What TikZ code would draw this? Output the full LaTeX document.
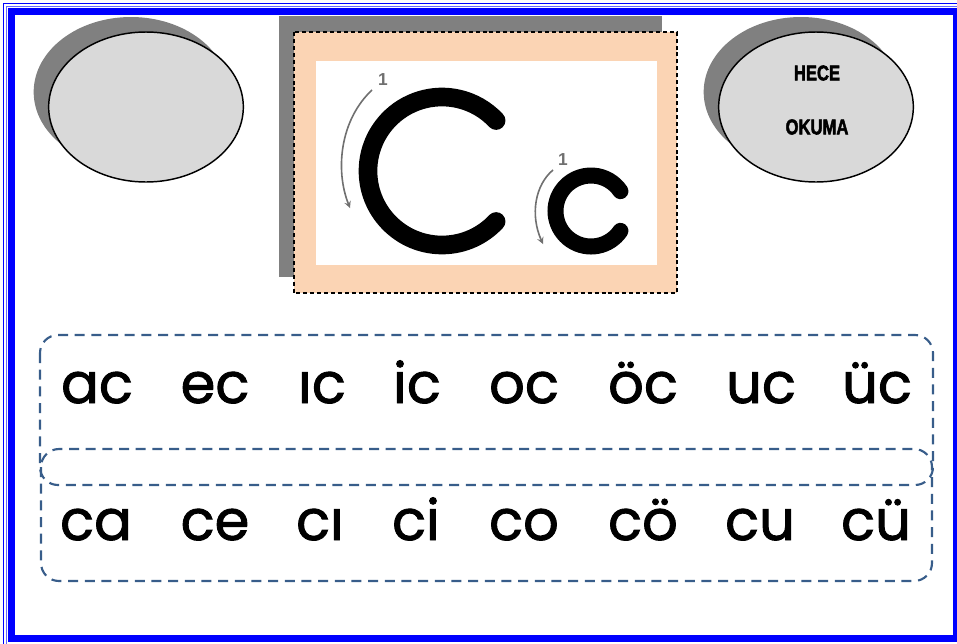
\documentclass[tikz,border=0pt]{standalone}
\usepackage{fontspec}
\newfontfamily\sylfont{Poppins}[FakeBold=1.6]
\newfontfamily\labfont{Liberation Sans}
\newfontfamily\headfont{Liberation Sans}[FakeBold=2.5]
\usetikzlibrary{shapes.geometric}
\definecolor{frameblue}{RGB}{0,0,255}
\definecolor{peach}{RGB}{251,212,180}
\definecolor{boxblue}{RGB}{56,93,138}
\definecolor{shadegray}{RGB}{128,128,128}
\definecolor{ovalgray}{RGB}{217,217,217}
\definecolor{arrowgray}{RGB}{112,112,112}
\tikzset{
	oval/.style={ellipse, draw=black, line width=1.1pt, fill=ovalgray, minimum width=146pt, minimum height=112.5pt, inner sep=0pt},
	shadowoval/.style={ellipse, fill=shadegray, minimum width=146pt, minimum height=112.5pt, inner sep=0pt},
	sylbox/.style={draw=boxblue, line width=1.6pt, dash pattern=on 7.5pt off 5pt, rounded corners=13.5pt},
	syl/.style={anchor=base, font=\sylfont\fontsize{42}{48}\selectfont},
	okuma/.style={font=\headfont\bfseries\fontsize{16}{18}\selectfont, xscale=0.78},
	stroke/.style={arrowgray, line width=1.2pt, -stealth},
	strokenum/.style={text=arrowgray, font=\labfont\bfseries\fontsize{13}{14}\selectfont, inner sep=0pt}
}
\begin{document}
\begin{tikzpicture}[x=0.75pt,y=-0.75pt]
	\useasboundingbox (0,0) rectangle (957,643);
	% frame
	\draw[frameblue, line width=0.75pt] (3.5,3.5) rectangle (975,660);
	\draw[frameblue!60, line width=0.75pt] (6.5,6.5) rectangle (972,657);
	\draw[frameblue, line width=5.25pt] (11.5,11.5) rectangle (956.5,638.5);

	% ovals
	\node[shadowoval] (lshadow) at (131,92) {};
	\node[oval] (loval) at (146,107) {};
	\node[shadowoval] (rshadow) at (801,92) {};
	\node[oval] (roval) at (816,107) {};
	\node[okuma] (hece) at (817,73) {HECE};
	\node[okuma] (okuma) at (817,127) {OKUMA};

	% letter card
	\fill[shadegray] (279,16) rectangle (662,277);
	\draw[fill=peach, line width=0.8pt, dash pattern=on 3pt off 2.2pt] (294,32) rectangle (677,293);
	\fill[white] (316,61) rectangle (657,265);

	\coordinate (bigC) at (442,171);
	\coordinate (smallc) at (591,211);
	\draw[line width=14pt, line cap=round] (bigC) ++(43:74) arc[start angle=43, end angle=317, radius=74];
	\draw[line width=12pt, line cap=round] (smallc) ++(34:35.5) arc[start angle=34, end angle=326, radius=35.5];

	\coordinate (bigfrom) at (372,90);
	\coordinate (bigto) at (350,208);
	\coordinate (smallfrom) at (553,170);
	\coordinate (smallto) at (543,244);
	\draw[stroke] (bigfrom) .. controls (340,120) and (335,170) .. (bigto);
	\draw[stroke] (smallfrom) .. controls (535,185) and (530,215) .. (smallto);
	\node[strokenum] (bignum) at (383,80) {1};
	\node[strokenum] (smallnum) at (563,160) {1};

	% syllables
	\draw[sylbox] (40,335) rectangle (933,485);
	\draw[sylbox] (41,449) rectangle (932,581);

	\foreach \x/\s [count=\i] in {97/ac, 215/ec, 322/ıc, 417/ic, 524/oc, 643/öc, 761/uc, 877/üc}
	{
		\node[syl] (top\i) at (\x,403) {\s};
	}
	\foreach \x/\s [count=\i] in {96/ca, 215/ce, 320/cı, 416/ci, 524/co, 643/cö, 760/cu, 876/cü}
	{
		\node[syl] (bot\i) at (\x,540) {\s};
	}
\end{tikzpicture}
\end{document}
